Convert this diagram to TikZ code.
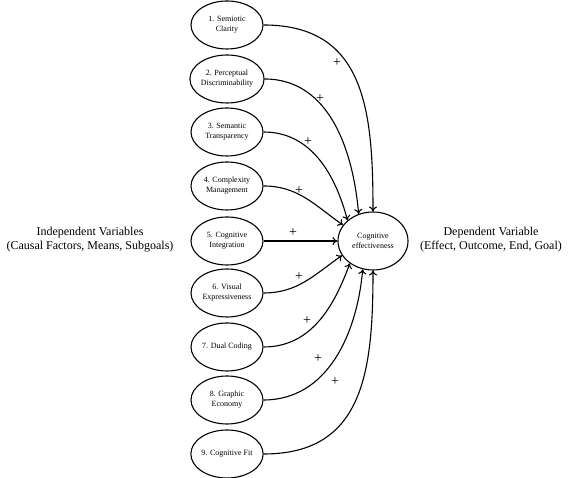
\documentclass[tikz,border=0pt]{standalone}
\usepackage{fontspec}
\setmainfont{Liberation Serif}
\usetikzlibrary{shapes.geometric}
\usetikzlibrary{arrows.meta}
\begin{document}
\begin{tikzpicture}[x=1pt,y=1pt,
    factor/.style={draw,line width=1.1pt,ellipse,minimum width=72pt,minimum height=48pt,inner sep=0pt,align=center,font=\fontsize{8}{10}\selectfont},
    effect/.style={draw,line width=1.1pt,ellipse,minimum width=70pt,minimum height=58pt,inner sep=0pt,align=center,font=\fontsize{8}{10}\selectfont},
    link/.style={-{To[length=5pt,width=8pt]},line width=1.1pt},
    sign/.style={font=\fontsize{14}{14}\selectfont,inner sep=0pt},
    side/.style={align=center,font=\fontsize{12}{14}\selectfont}]
      \useasboundingbox (0,0) rectangle (568,478);
      \node[factor] (clarity) at (227,453) {1. Semiotic\\Clarity};
      \node[factor] (discrim) at (227,399) {2. Perceptual\\Discriminability};
      \node[factor] (transp) at (227,346) {3. Semantic\\Transparency};
      \node[factor] (complex) at (227,292) {4. Complexity\\Management};
      \node[factor] (integr) at (227,237) {5. Cognitive\\Integration};
      \node[factor] (express) at (227,185) {6. Visual\\Expressiveness};
      \node[factor] (dual) at (227,131) {7. Dual Coding};
      \node[factor] (economy) at (227,78) {8. Graphic\\Economy};
      \node[factor] (fit) at (227,24) {9. Cognitive Fit};
      \node[effect] (cogeff) at (373,237) {Cognitive\\effectiveness};

      \node[side] (indep) at (90,238) {Independent Variables\\(Causal Factors, Means, Subgoals)};
      \node[side] (dep) at (491,238) {Dependent Variable\\(Effect, Outcome, End, Goal)};

      \draw[link] (clarity.east) to[out=0,in=90,looseness=1.2] (cogeff.90);
      \draw[link] (discrim.east) to[out=0,in=95] (cogeff.118);
      \draw[link] (transp.east) to[out=0,in=105] (cogeff.141);
      \draw[link] (complex.east) to[out=0,in=145] (cogeff.152);
      \draw[link] (integr.east) -- (cogeff.west);
      \draw[link] (express.east) to[out=0,in=215] (cogeff.205);
      \draw[link] (dual.east) to[out=0,in=250] (cogeff.224);
      \draw[link] (economy.east) to[out=0,in=265] (cogeff.250);
      \draw[link] (fit.east) to[out=0,in=270,looseness=1.2] (cogeff.270);

      \node[sign] (p1) at (337,415) {+};
      \node[sign] (p2) at (320,379) {+};
      \node[sign] (p3) at (308,336) {+};
      \node[sign] (p4) at (299,287) {+};
      \node[sign] (p5) at (293,245) {+};
      \node[sign] (p6) at (299,201) {+};
      \node[sign] (p7) at (307,157) {+};
      \node[sign] (p8) at (318,119) {+};
      \node[sign] (p9) at (335,96) {+};
\end{tikzpicture}
\end{document}
